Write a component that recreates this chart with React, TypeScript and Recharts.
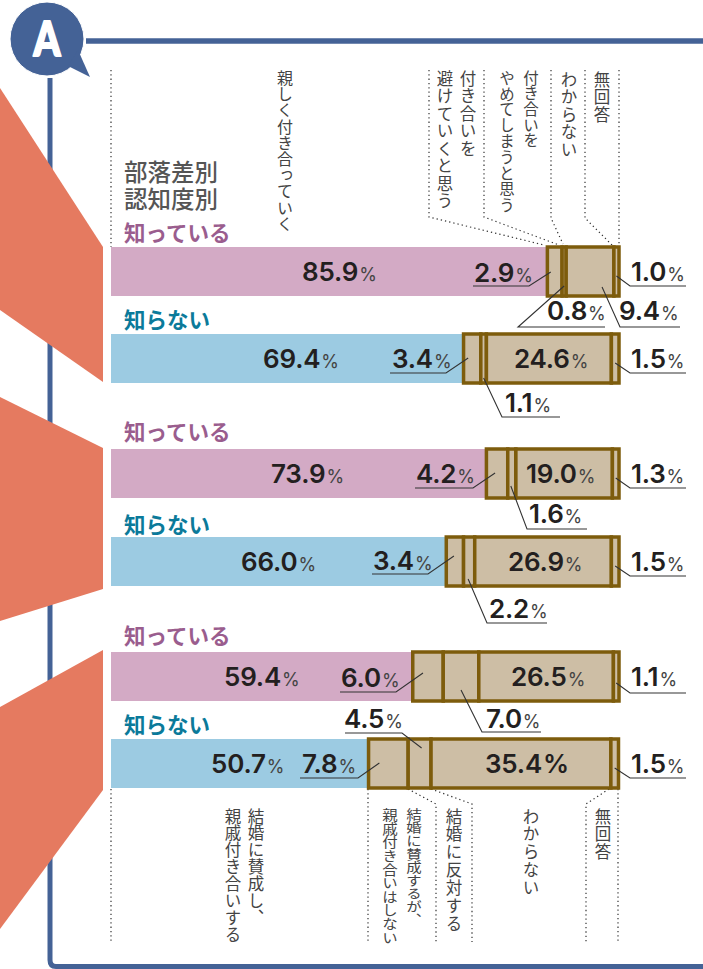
import { BarChart, Bar, Cell, XAxis, YAxis, LabelList } from 'recharts';

// series values, one entry per row from top to bottom
const close = [85.9, 69.4, 73.9, 66.0, 59.4, 50.7];
const avoid = [2.9, 3.4, 4.2, 3.4, 6.0, 7.8];
const stop = [0.8, 1.1, 1.6, 2.2, 7.0, 4.5];
const unknown = [9.4, 24.6, 19.0, 26.9, 26.5, 35.4];
const noAnswer = [1.0, 1.5, 1.3, 1.5, 1.1, 1.5];
const rowNames = ['知っている', '知らない', '知っている', '知らない', '知っている', '知らない'];

const seriesKeys = ['close', 'avoid', 'stop', 'unknown', 'noAnswer'];
const rows = rowNames.map((name, i) => ({
  id: `${name}${i}`,
  close: close[i],
  avoid: avoid[i],
  stop: stop[i],
  unknown: unknown[i],
  noAnswer: noAnswer[i],
}));

const PINK = '#d3aac5';
const BLUE = '#9ccbe2';
const TAN = '#cdbea5';
const BROWN = '#7d5c0c';
const NAVY = '#446296';
const CORAL = '#e57a60';
const INK = '#231f20';

// the three pairs of rows: chart top, height of one row band
const groups = [
  { start: 0, top: 228, band: 87 },
  { start: 2, top: 429, band: 88 },
  { start: 4, top: 633, band: 87 },
];
// room under the lower bar for the callouts
const CALLOUT_ROOM = 50;

// label placement: left edge of text and baseline (from bar top)
type Place = {
  x: number;
  base: number;
  ul?: [number, number, number]; // underline x1, x2, y from bar top
  elbow?: 'l' | 'r';
  tip?: [number, number]; // from segment centre, from bar top
  big?: boolean;
};

const closePlaces: Place[] = [303, 264, 272, 242, 225, 212].map((x) => ({ x, base: 34 }));
const avoidPlaces: Place[] = [
  { x: 475, base: 35, ul: [473, 529, 39], elbow: 'r', tip: [-4, 25] },
  { x: 393, base: 34, ul: [390, 446, 39], elbow: 'r', tip: [-4, 24] },
  { x: 417, base: 34, ul: [415, 473, 39], elbow: 'r', tip: [-2, 24] },
  { x: 374, base: 33, ul: [372, 428, 37], elbow: 'r', tip: [-1, 19] },
  { x: 342, base: 35, ul: [340, 396, 40], elbow: 'r', tip: [-5, 21] },
  { x: 303, base: 34, ul: [300, 358, 39], elbow: 'r', tip: [-9, 24] },
];
const stopPlaces: Place[] = [
  { x: 548, base: 73, ul: [518, 605, 80], elbow: 'l', tip: [0, 39] },
  { x: 506, base: 78, ul: [502, 560, 83], elbow: 'l', tip: [0, 44] },
  { x: 530, base: 74, ul: [527, 587, 80], elbow: 'l', tip: [-1, 37] },
  { x: 490, base: 81, ul: [487, 547, 86], elbow: 'l', tip: [-1, 42] },
  { x: 487, base: 76, ul: [482, 541, 80], elbow: 'l', tip: [0, 38] },
  { x: 345, base: -11, ul: [345, 402, -6], elbow: 'r', tip: [2, 9] },
];
const unknownPlaces: Place[] = [
  { x: 620, base: 73, ul: [620, 680, 80], elbow: 'l', tip: [12, 40] },
  { x: 515, base: 34 },
  { x: 527, base: 34 },
  { x: 509, base: 34 },
  { x: 512, base: 34 },
  { x: 486, base: 34, big: true },
];
const noAnswerPlaces: Place[] = noAnswer.map((_, i) => ({
  x: 632,
  base: 34,
  ul: [630, 686, i === 4 ? 41 : 39],
  elbow: 'l',
  tip: [0, i === 4 ? 31 : 29],
}));
const places: Record<string, Place[]> = {
  close: closePlaces,
  avoid: avoidPlaces,
  stop: stopPlaces,
  unknown: unknownPlaces,
  noAnswer: noAnswerPlaces,
};

// row headings above each bar, page y
const rowNameY = [241, 328, 440, 533, 644, 733];

// column captions, vertical text: label, x, y, size, vertical squeeze, spacing
const captions: [string, number, number, number, number, number][] = [
  ['親しく付き合っていく', 285, 70, 16, 1, 0.2],
  ['付き合いを', 468, 70, 16.5, 1, 1],
  ['避けていくと思う', 445, 70, 16.5, 1, 1],
  ['付き合いを', 531, 70, 15.5, 1, 0.2],
  ['やめてしまうと思う', 507, 70, 15.5, 1, 0.4],
  ['わからない', 569, 71, 16.5, 1, 1],
  ['無回答', 602, 71, 16.5, 1, 1],
  ['結婚に賛成し、', 256, 808, 16.5, 1, 0.4],
  ['親戚付き合いする', 233, 808, 16.5, 1, 0.4],
  ['結婚に賛成するが、', 414, 808, 15.5, 0.84, 0],
  ['親戚付き合いはしない', 390, 808, 15.5, 0.88, 0],
  ['結婚に反対する', 454, 808, 16.5, 1, 1.4],
  ['わからない', 531, 808, 16.5, 1, 1.4],
  ['無回答', 603, 808, 16.5, 1, 1.4],
];

const guides = [
  '111,70 111,247',
  '429,70 429,217 544,245',
  '484,70 484,217 559,245',
  '551,70 551,218 563,244',
  '585,70 585,218 612,245',
  '619,70 619,245',
  '111,789 111,942',
  '368,789 368,942',
  '408,789 436,804 436,942',
  '431,789 472,804 472,942',
  '609,789 586,804 586,942',
  '618,789 618,942',
];

const wedges = [
  '0,88 103,247 103,382 0,310',
  '0,397 103,448 103,589 0,621',
  '0,707 103,650 103,790 0,929',
];

function valueLabel(seriesKey: string, start: number) {
  return (props: any) => {
    const box = props.viewBox ?? props;
    const { x, y, width } = box;
    const place = places[seriesKey][start + props.index];
    if (!place) return null;
    const { ul, tip, elbow } = place;
    let leader = '';
    if (ul && tip) {
      const tipX = x + width / 2 + tip[0];
      const tipY = y + tip[1];
      const ulY = y + ul[2];
      leader =
        elbow === 'l'
          ? `${tipX},${tipY} ${ul[0]},${ulY} ${ul[1]},${ulY}`
          : `${tipX},${tipY} ${ul[1]},${ulY} ${ul[0]},${ulY}`;
    }
    return (
      <g>
        {leader && <polyline points={leader} fill="none" stroke="#333" strokeWidth={1.1} />}
        <text x={place.x - 1} y={y + place.base} fill={INK} fontFamily="Inter" fontSize={26} fontWeight={600} letterSpacing={-0.2}>
          {Number(props.value).toFixed(1)}
          <tspan fontSize={place.big ? 26 : 18} fontWeight={place.big ? 600 : 400} fill={place.big ? INK : '#444'} dx={1}>
            %
          </tspan>
        </text>
      </g>
    );
  };
}

function RowPair({ start, top, band }: { start: number; top: number; band: number }) {
  const data = rows.slice(start, start + 2);
  return (
    <div style={{ position: 'absolute', left: 0, top }}>
      <BarChart
        width={703}
        height={band * 2 + CALLOUT_ROOM}
        data={data}
        layout="vertical"
        barSize={49}
        margin={{ top: 0, right: 84, bottom: CALLOUT_ROOM, left: 111 }}
      >
        <XAxis type="number" domain={[0, 100]} hide />
        <YAxis type="category" dataKey="id" hide />
        {seriesKeys.map((key, s) => (
          <Bar
            key={key}
            dataKey={key}
            stackId="a"
            isAnimationActive={false}
            fill={TAN}
            stroke={s === 0 ? 'none' : BROWN}
            strokeWidth={s === 0 ? 0 : 3.5}
          >
            {s === 0 && data.map((_, i) => <Cell key={i} fill={(start + i) % 2 === 0 ? PINK : BLUE} />)}
            <LabelList dataKey={key} content={valueLabel(key, start)} />
          </Bar>
        ))}
      </BarChart>
    </div>
  );
}

export default function App() {
  return (
    <div style={{ position: 'absolute', left: 0, top: 0, width: 703, height: 969, overflow: 'hidden', background: '#fff' }}>
      <svg width={703} height={969} style={{ position: 'absolute', left: 0, top: 0 }}>
        <path d="M86 41 H703" stroke={NAVY} strokeWidth={5.5} fill="none" />
        <path d="M50 78 V960 Q50 966.5 56 966.5 H703" stroke={NAVY} strokeWidth={5} fill="none" />
        <circle cx={47} cy={39} r={37} fill={NAVY} stroke="#fff" strokeWidth={1} />
        <path d="M78 50 L90 77 L68 66 Z" fill={NAVY} />
        <text
          transform="translate(47 55.5) scale(0.8 1)"
          textAnchor="middle"
          fontFamily="Lato"
          fontWeight={900}
          fontSize={48}
          fill="#fff"
          stroke="#fff"
          strokeWidth={2}
          strokeLinejoin="round"
        >
          A
        </text>
        {wedges.map((points) => (
          <polygon key={points} points={points} fill={CORAL} />
        ))}
        {guides.map((points) => (
          <polyline key={points} points={points} fill="none" stroke="#333" strokeWidth={1.2} strokeDasharray="1.3 3" />
        ))}
      </svg>
      {groups.map((g) => (
        <RowPair key={g.start} {...g} />
      ))}
      <svg width={703} height={969} style={{ position: 'absolute', left: 0, top: 0, pointerEvents: 'none' }}>
        <g fontFamily="'Noto Sans CJK JP'" fontSize={23.5} fontWeight={500} fill="#555">
          <text x={124} y={181}>部落差別</text>
          <text x={124} y={208}>認知度別</text>
        </g>
        {rowNames.map((name, i) => (
          <text
            key={i}
            x={124}
            y={rowNameY[i]}
            fontFamily="'Noto Sans CJK JP'"
            fontSize={21.5}
            fontWeight={700}
            fill={i % 2 === 0 ? '#9a5d8e' : '#0b7a9a'}
          >
            {name}
          </text>
        ))}
        {captions.map(([label, x, y, size, squeeze, spacing]) => (
          <text
            key={`${label}${x}`}
            transform={`translate(${x} ${y}) scale(1 ${squeeze})`}
            fontFamily="'Noto Sans CJK JP'"
            fontSize={size}
            fontWeight={400}
            fill="#444"
            letterSpacing={spacing}
            style={{ writingMode: 'vertical-rl', fontKerning: 'none' }}
          >
            {label}
          </text>
        ))}
      </svg>
    </div>
  );
}
